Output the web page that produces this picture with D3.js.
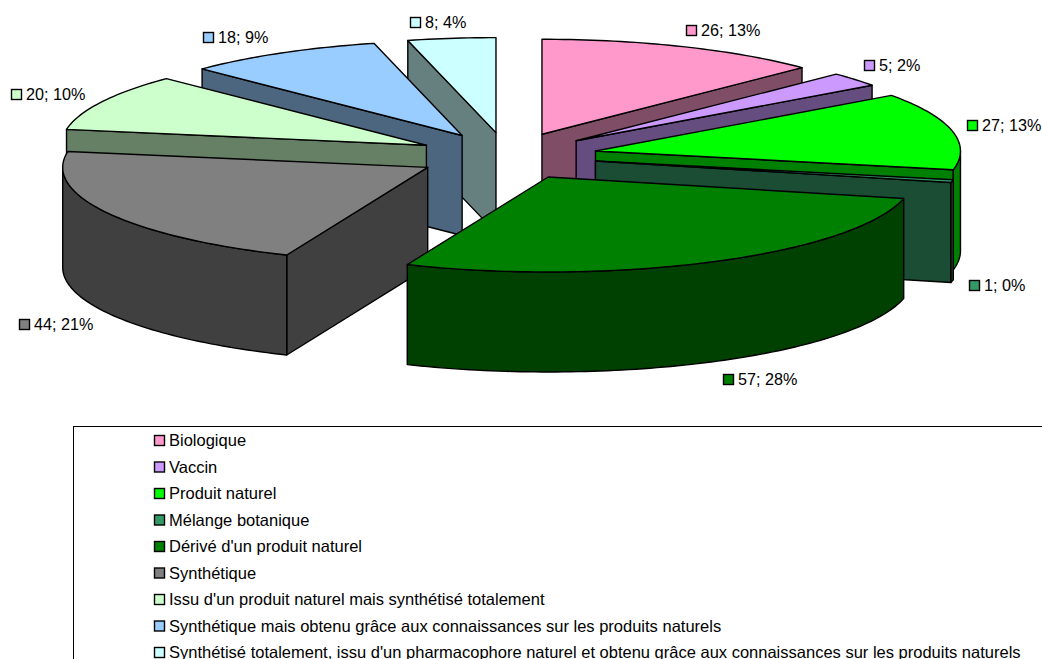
<!DOCTYPE html>
<html lang="fr">
<head>
<meta charset="utf-8">
<script src="https://cdn.jsdelivr.net/npm/d3@7"></script>
<style>
html,body{margin:0;padding:0;background:#fff;overflow:hidden}
svg{display:block}
text{font-family:"Liberation Sans",Arial,sans-serif;font-size:16.2px;fill:#000}
text.legend{font-size:16.5px}
</style>
</head>
<body>
<svg id="chart" width="1042" height="659"></svg>
<script>
const categories = ["Biologique","Vaccin","Produit naturel","Mélange botanique","Dérivé d'un produit naturel","Synthétique","Issu d'un produit naturel mais synthétisé totalement","Synthétique mais obtenu grâce aux connaissances sur les produits naturels","Synthétisé totalement, issu d'un pharmacophore naturel et obtenu grâce aux connaissances sur les produits naturels"];
const values = [26,5,27,1,57,44,20,18,8];
const topColors = ["#FF99CC","#CC99FF","#00FF00","#339966","#008000","#808080","#CCFFCC","#99CCFF","#CCFFFF"];
const wallColors = ["#804D66","#664D80","#008000","#1A4D33","#004000","#404040","#668066","#4D6680","#668080"];
const labelX = [686,864,967,969,723,19,11,203,410];
const labelY = [30,65,125,285,379,324,94,37,22];

const svg = d3.select("#chart");
const total = d3.sum(values);
const explode = 0.248;
const x = d3.scaleLinear().domain([-1,1]).range([507-365,507+365]);
const y = d3.scaleLinear().domain([-1,1]).range([156-95,156+95]);
const depth = 100;
const line = d3.line().x(d=>d[0]).y(d=>d[1]);

const slices = d3.pie().sort(null).value(d=>d)(values).map((p,i)=>{
  const m = (p.startAngle+p.endAngle)/2;
  return {i, a0:p.startAngle, a1:p.endAngle, ox:explode*Math.sin(m), oy:-explode*Math.cos(m)};
});
const pt = (s,a,r=1,dz=0)=>[x(s.ox+r*Math.sin(a)), y(s.oy-r*Math.cos(a))+dz];
const arcPts = (a0,a1,s,dz)=>{
  const n = Math.max(2,Math.ceil((a1-a0)/0.02));
  return d3.range(n+1).map(k=>pt(s,a0+(a1-a0)*k/n,1,dz));
};
const draw = (pts,fill)=>svg.append("path").attr("d",line(pts)+"Z")
  .attr("fill",fill).attr("stroke","#000").attr("stroke-width",1.4).attr("stroke-linejoin","round");

// back-to-front painter's order: by apex screen y
slices.slice().sort((a,b)=>a.oy-b.oy).forEach(s=>{
  const wall = wallColors[s.i];
  const apex = pt(s,0,0), apexB = pt(s,0,0,depth);
  const side = a=>draw([apex,pt(s,a),pt(s,a,1,depth),apexB],wall);
  if(Math.sin(s.a0)<-1e-6) side(s.a0);
  if(Math.sin(s.a1)>1e-6) side(s.a1);
  const lo=Math.max(s.a0,Math.PI/2), hi=Math.min(s.a1,Math.PI*1.5);
  if(hi>lo) draw(arcPts(lo,hi,s,0).concat(arcPts(lo,hi,s,depth).reverse()),wall);
  draw([apex].concat(arcPts(s.a0,s.a1,s,0)),topColors[s.i]);
});

// data labels
const swatch = (sx,cy,c)=>svg.append("rect").attr("x",sx+.5).attr("y",cy-4.5).attr("width",10).attr("height",10)
  .attr("fill",c).attr("stroke","#000").attr("stroke-width",1.4);
values.forEach((v,i)=>{
  swatch(labelX[i],labelY[i],topColors[i]);
  svg.append("text").attr("x",labelX[i]+15).attr("y",labelY[i]+6)
    .text(`${v}; ${Math.round(v/total*100)}%`);
});

// legend (runs past the right and bottom of the picture)
svg.append("rect").attr("x",73.5).attr("y",426.5).attr("width",1100).attr("height",400)
  .attr("fill","#fff").attr("stroke","#000").attr("stroke-width",1);
const legendY = d3.scalePoint().domain(d3.range(categories.length)).range([440,652]);
categories.forEach((c,i)=>{
  swatch(154,legendY(i),topColors[i]);
  svg.append("text").attr("class","legend").attr("x",169).attr("y",legendY(i)+6).text(c);
});
</script>
</body>
</html>
